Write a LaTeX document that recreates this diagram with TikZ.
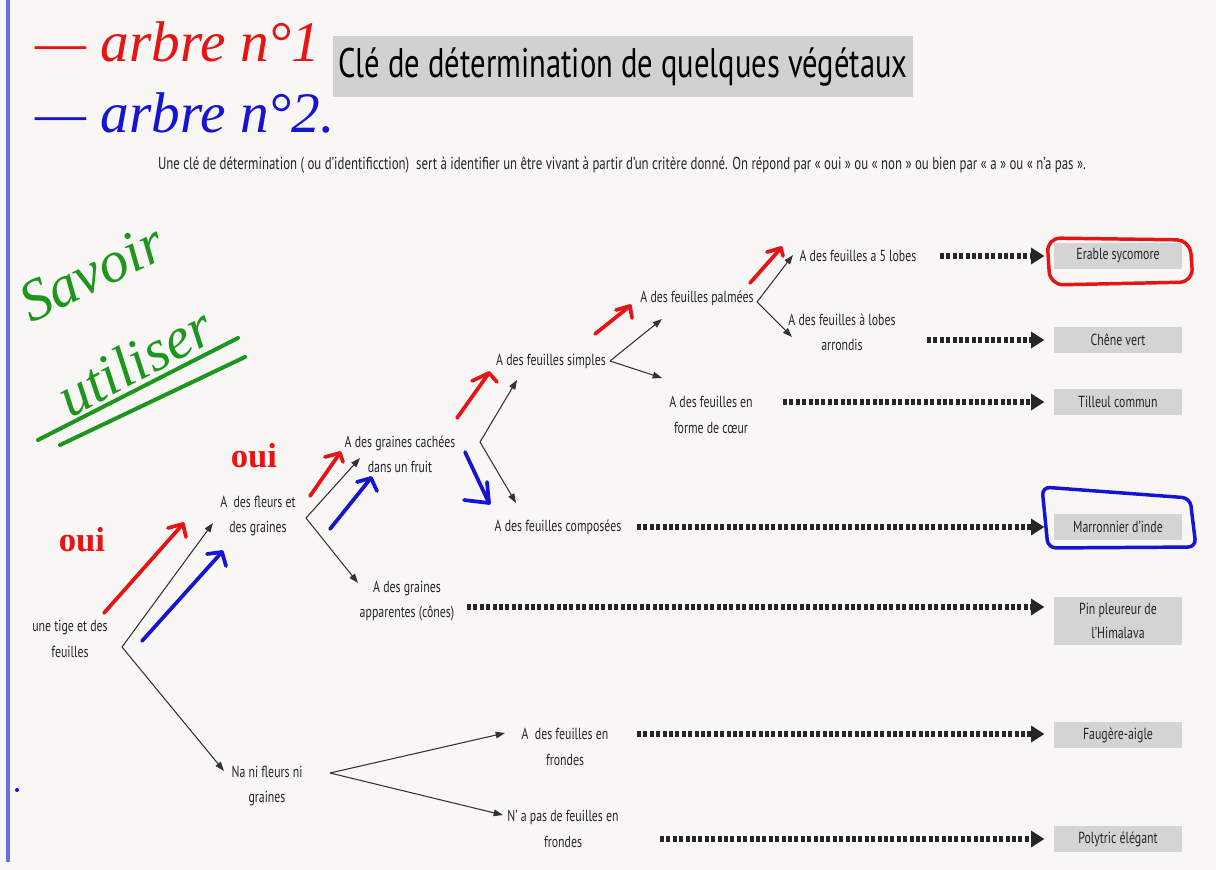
\documentclass[tikz,border=0pt]{standalone}
\usepackage{fontspec}
\setmainfont{PT Sans}[FakeStretch=0.74]
\newfontfamily\hand{Liberation Serif}
\usetikzlibrary{arrows.meta}
\definecolor{paper}{RGB}{248,247,245}
\definecolor{penred}{RGB}{230,20,20}
\definecolor{penblue}{RGB}{20,20,210}
\definecolor{pengreen}{RGB}{30,150,30}
\definecolor{margin}{RGB}{110,110,225}
\begin{document}
\begin{tikzpicture}[x=0.75pt,y=-0.75pt,
  lbl/.style={font=\fontsize{12}{19}\selectfont, align=center, inner sep=0pt, text=black!85},
  res/.style={fill=black!17, minimum width=96pt, minimum height=19.5pt, inner sep=0pt, font=\fontsize{12}{18}\selectfont, align=center, text=black!85},
  conn/.style={draw=black!80, line width=0.8pt, -{Triangle[length=7pt,width=5pt]}},
  dotarr/.style={draw=black!85, line width=4pt, dash pattern=on 3pt off 1.8pt, -{Triangle[length=10pt,width=12pt]}, shorten >=7pt},
  redpen/.style={draw=penred, line width=2.8pt, line cap=round, line join=round},
  bluepen/.style={draw=penblue, line width=2.8pt, line cap=round, line join=round},
  greenpen/.style={draw=pengreen, line width=3pt, line cap=round, line join=round},
  handtxt/.style={font=\hand\itshape, inner sep=0pt}]
\useasboundingbox (0,0) rectangle (1216,870);
\fill[paper] (0,0) rectangle (1216,870);
\draw[margin, line width=3pt] (8,0) -- (8,862);
\fill[penblue] (17,790) circle (2);

% title and subtitle
\node[fill=black!18, minimum width=435pt, minimum height=45.75pt, inner sep=0pt,
      font=\fontsize{31}{34}\selectfont] (title) at (623,67) {Clé de détermination de quelques végétaux};
\node[lbl, font=\fontsize{13}{15}\selectfont] (intro) at (622,165)
  {Une clé de détermination ( ou d'identificction)\ \ sert à identifier un être vivant à partir d'un critère donné. On répond par « oui » ou « non » ou bien par « a » ou « n'a pas ».};

% handwritten notes
\node[handtxt, text=penred, font=\hand\itshape\fontsize{43}{46}\selectfont, anchor=base west] (arbre1) at (35,62) {— arbre n°1};
\node[handtxt, text=penblue, font=\hand\itshape\fontsize{43}{46}\selectfont, anchor=base west] (arbre2) at (35,133) {— arbre n°2.};
\node[handtxt, text=pengreen, font=\hand\itshape\fontsize{44}{46}\selectfont, rotate=26, anchor=base] (savoir) at (100,290) {Savoir};
\node[handtxt, text=pengreen, font=\hand\itshape\fontsize{44}{46}\selectfont, rotate=28, anchor=base] (utiliser) at (144,379) {utiliser};
\draw[greenpen] (38,440) -- (238,338);
\draw[greenpen] (60,445) -- (245,357);
\node[handtxt, text=penred, font=\hand\bfseries\fontsize{26}{28}\selectfont] (oui1) at (82,540) {oui};
\node[handtxt, text=penred, font=\hand\bfseries\fontsize{26}{28}\selectfont] (oui2) at (254,456) {oui};

% questions
\node[lbl] (tige) at (70,639) {une tige et des\\feuilles};
\node[lbl] (fleurs) at (258,516) {A\ \ des fleurs et\\des graines};
\node[lbl] (cachees) at (400,454) {A des graines cachées\\dans un fruit};
\node[lbl] (cones) at (407,601) {A des graines\\apparentes (cônes)};
\node[lbl] (simples) at (551,361) {A des feuilles simples};
\node[lbl] (composees) at (558,527) {A des feuilles composées};
\node[lbl] (palmees) at (697,298) {A des feuilles palmées};
\node[lbl] (coeur) at (711,415) {A des feuilles en\\forme de cœur};
\node[lbl] (lobes) at (858,256) {A des feuilles a 5 lobes};
\node[lbl] (arrondis) at (842,332) {A des feuilles à lobes\\arrondis};
\node[lbl] (nani) at (267,786) {Na ni fleurs ni\\graines};
\node[lbl] (frondes) at (565,747) {A\ \ des feuilles en\\frondes};
\node[lbl] (pasfrondes) at (563,829) {N' a pas de feuilles en\\frondes};

% answers
\node[res] (erable) at (1118,256) {Erable sycomore};
\node[res] (chene) at (1118,340) {Chêne vert};
\node[res] (tilleul) at (1118,402) {Tilleul commun};
\node[res] (marron) at (1118,527) {Marronnier d'inde};
\node[res, minimum height=36pt] (pin) at (1118,621) {Pin pleureur de\\l'Himalava};
\node[res] (fougere) at (1118,735) {Faugère-aigle};
\node[res] (polytric) at (1118,839) {Polytric élégant};

% branching points and tips
\coordinate (vTige) at (122,647);
\coordinate (tFleurs) at (213,523);
\coordinate (tNani) at (224,771);
\coordinate (vFleurs) at (306,518);
\coordinate (tCachees) at (360,458);
\coordinate (tCones) at (358,583);
\coordinate (vCachees) at (480,442);
\coordinate (tSimples) at (517,380);
\coordinate (tComposees) at (516,503);
\coordinate (vSimples) at (610,361);
\coordinate (tPalmees) at (662,319);
\coordinate (tCoeur) at (662,378);
\coordinate (vPalmees) at (757,302);
\coordinate (tLobes) at (793,255);
\coordinate (tArrondis) at (792,337);
\coordinate (vNani) at (330,773);
\coordinate (tFrondes) at (505,733);
\coordinate (tPasFrondes) at (503,815);

\draw[conn] (vTige) -- (tFleurs);
\draw[conn] (vTige) -- (tNani);
\draw[conn] (vFleurs) -- (tCachees);
\draw[conn] (vFleurs) -- (tCones);
\draw[conn] (vCachees) -- (tSimples);
\draw[conn] (vCachees) -- (tComposees);
\draw[conn] (vSimples) -- (tPalmees);
\draw[conn] (vSimples) -- (tCoeur);
\draw[conn] (vPalmees) -- (tLobes);
\draw[conn] (vPalmees) -- (tArrondis);
\draw[conn] (vNani) -- (tFrondes);
\draw[conn] (vNani) -- (tPasFrondes);

% dotted arrows to answers
\coordinate (dLobes) at (940,256);
\coordinate (dArrondis) at (927,340);
\coordinate (dCoeur) at (783,402);
\coordinate (dComposees) at (637,527);
\coordinate (dCones) at (467,607);
\coordinate (dFrondes) at (637,734);
\coordinate (dPasFrondes) at (660,839);
\draw[dotarr] (dLobes) -- (dLobes -| erable.west);
\draw[dotarr] (dArrondis) -- (dArrondis -| chene.west);
\draw[dotarr] (dCoeur) -- (dCoeur -| tilleul.west);
\draw[dotarr] (dComposees) -- (dComposees -| marron.west);
\draw[dotarr] (dCones) -- (dCones -| pin.west);
\draw[dotarr] (dFrondes) -- (dFrondes -| fougere.west);
\draw[dotarr] (dPasFrondes) -- (dPasFrondes -| polytric.west);

% hand-drawn arrows
\draw[redpen] (104,613) -- (183,524);
\draw[redpen] (168,528) -- (183,524) -- (186,537);
\draw[bluepen] (142,641) -- (222,552);
\draw[bluepen] (207,554) -- (222,552) -- (226,566);
\draw[redpen] (310,496) -- (340,453);
\draw[redpen] (325,457) -- (340,453) -- (343,462);
\draw[bluepen] (330,529) -- (371,478);
\draw[bluepen] (357,482) -- (371,478) -- (377,491);
\draw[bluepen] (465,452) -- (489,503);
\draw[bluepen] (464,500) -- (489,503) -- (487,482);
\draw[redpen] (457,418) -- (489,373);
\draw[redpen] (472,381) -- (489,373) -- (497,382);
\draw[redpen] (595,334) -- (630,306);
\draw[redpen] (616,310) -- (630,306) -- (632,318);
\draw[redpen] (750,283) -- (781,248);
\draw[redpen] (767,252) -- (781,248) -- (783,256);

% circled answers
\draw[penred, line width=2.6pt, rounded corners=10pt] (1047,238) -- (1190,240) -- (1193,282) -- (1050,285) -- cycle;
\draw[penblue, line width=2.6pt, rounded corners=6pt] (1042,487) -- (1190,498) -- (1196,547) -- (1048,548) -- cycle;
\end{tikzpicture}
\end{document}
